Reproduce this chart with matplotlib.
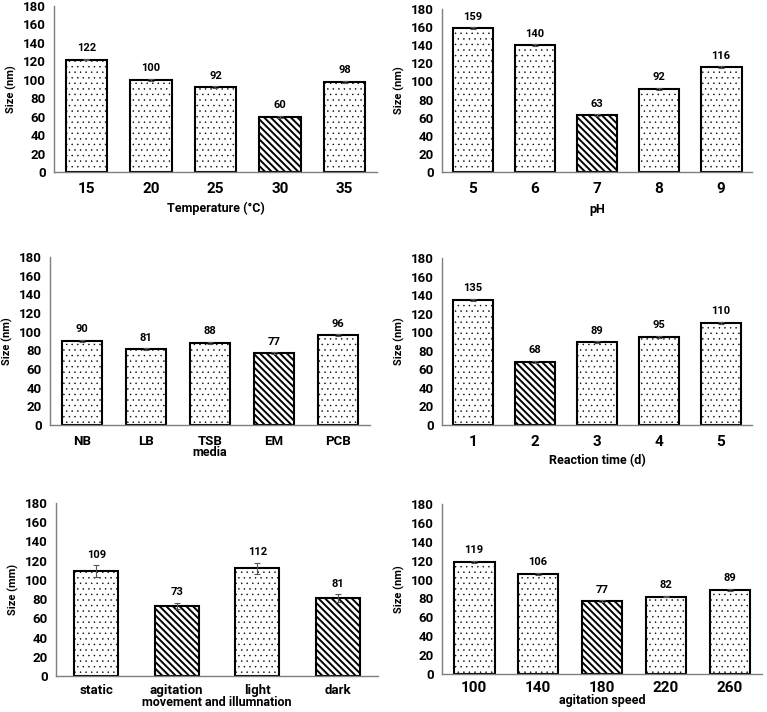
import numpy as np
import matplotlib
matplotlib.use('Agg')
import matplotlib.pyplot as plt

plt.rcParams['font.family'] = ['Roboto', 'DejaVu Sans']
plt.rcParams['font.weight'] = 'bold'
plt.rcParams['hatch.linewidth'] = 1.4
plt.rcParams['hatch.color'] = 'black'

# ДАННЫЕ
# ==========================================================
temp_labels = ['15', '20', '25', '30', '35']
temp_values = [122, 100, 92, 60, 98]
temp_err = [1, 1, 1, 1, 1]
temp_best = [3]

ph_labels = ['5', '6', '7', '8', '9']
ph_values = [159, 140, 63, 92, 116]
ph_err = [1, 1, 1, 1, 1]
ph_best = [2]

media_labels = ['NB', 'LB', 'TSB', 'EM', 'PCB']
media_values = [90, 81, 88, 77, 96]
media_err = [1, 1, 1, 1, 1]
media_best = [3]

time_labels = ['1', '2', '3', '4', '5']
time_values = [135, 68, 89, 95, 110]
time_err = [1, 1, 1, 1, 1]
time_best = [1]

move_labels = ['static', 'agitation', 'light', 'dark']
move_values = [109, 73, 112, 81]
move_err = [6, 3, 6, 4]
move_best = [1, 3]

speed_labels = ['100', '140', '180', '220', '260']
speed_values = [119, 106, 77, 82, 89]
speed_err = [1, 1, 1, 1, 1]
speed_best = [2]
# ==========================================================


def panel(fig, rect, labels, values, err, best, xlabel, ylabel='Size (nm)',
          width=0.64, xfont=11, labelpad=4, xpad=7):
    ax = fig.add_axes(rect)
    x = np.arange(len(labels))
    bars = ax.bar(x, values, width=width, color='white', edgecolor='black',
                  linewidth=1.5, zorder=2)
    for k, b in enumerate(bars):
        if k in best:
            b.set_hatch('\\' * 5)
            if hasattr(b, 'set_hatch_linewidth'):
                b.set_hatch_linewidth(1.4)
        else:
            b.set_hatch('...')
            if hasattr(b, 'set_hatch_linewidth'):
                b.set_hatch_linewidth(0.3)
    ax.errorbar(x, values, yerr=err, fmt='none', ecolor='#555555',
                elinewidth=0.8, capsize=2.5, capthick=0.8, zorder=3)
    for xi, v, e in zip(x, values, err):
        ax.annotate(str(v), (xi, v + e), xytext=(0, 4), textcoords='offset points',
                    ha='center', va='bottom', fontsize=8, fontweight='bold')

    ax.set_xlim(-0.5, len(labels) - 0.5)
    ax.set_ylim(0, 180)
    ax.set_yticks(range(0, 181, 20))
    ax.set_xticks(x)
    ax.set_xticklabels(labels, fontsize=xfont, fontweight='bold')
    ax.tick_params(axis='y', length=0, pad=6, labelsize=9.5)
    ax.tick_params(axis='x', length=0, pad=xpad)
    for t in ax.get_yticklabels():
        t.set_fontweight('bold')
    ax.set_xlabel(xlabel, fontsize=9, fontweight='bold', labelpad=labelpad)
    ax.set_ylabel(ylabel, fontsize=8, fontweight='bold', labelpad=4)

    for s in ['top', 'right']:
        ax.spines[s].set_visible(False)
    for s in ['left', 'bottom']:
        ax.spines[s].set_color('#7f7f7f')
        ax.spines[s].set_linewidth(1.0)
    return ax


def main():
    fig = plt.figure(figsize=(7.67, 7.12), dpi=100)

    panel(fig, [0.0704, 0.7584, 0.4211, 0.2331], temp_labels, temp_values, temp_err,
          temp_best, 'Temperature (°C)', width=0.64)
    panel(fig, [0.5763, 0.7584, 0.4042, 0.2289], ph_labels, ph_values, ph_err,
          ph_best, 'pH', width=0.66, labelpad=5)
    panel(fig, [0.0652, 0.4031, 0.4172, 0.2360], media_labels, media_values, media_err,
          media_best, 'media', width=0.64, xfont=9.5, labelpad=-1)
    panel(fig, [0.5763, 0.4031, 0.4042, 0.2346], time_labels, time_values, time_err,
          time_best, 'Reaction time (d)', width=0.64, labelpad=4)
    panel(fig, [0.0730, 0.0506, 0.4198, 0.2430], move_labels, move_values, move_err,
          move_best, 'movement and illumnation', ylabel='Size (mm)', width=0.55,
          xfont=9.5, labelpad=-1, xpad=6)
    panel(fig, [0.5763, 0.0534, 0.4172, 0.2388], speed_labels, speed_values, speed_err,
          speed_best, 'agitation speed', width=0.64, labelpad=-1, xpad=5)

    plt.savefig('out.png', dpi=100)


if __name__ == '__main__':
    main()
